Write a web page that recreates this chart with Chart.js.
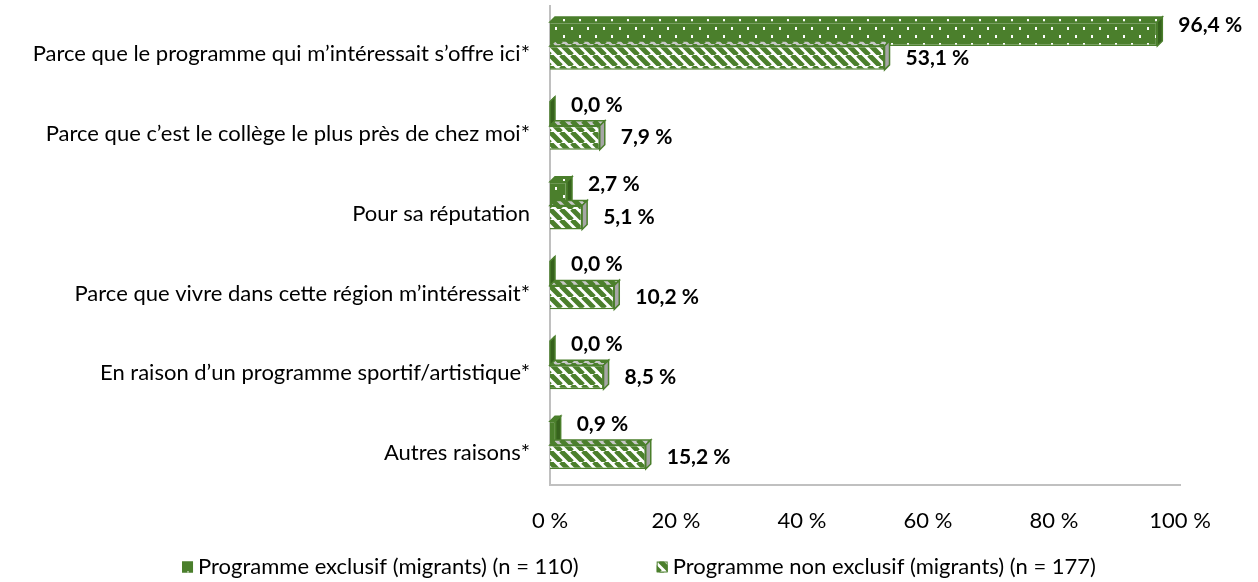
<!DOCTYPE html>
<html lang="fr">
<head>
    <meta charset="UTF-8">
    <title>Raisons du choix du collège</title>
    <script src="https://cdn.jsdelivr.net/npm/chart.js"></script>
    <style>
        body { margin: 0; background: #fff; }
        #wrap { width: 1258px; height: 582px; }
    </style>
</head>
<body>
    <div id="wrap"><canvas id="raisonsChart" width="1258" height="582"></canvas></div>

    <script>
        // Data
        const categories = [
            "Parce que le programme qui m’intéressait s’offre ici*",
            "Parce que c’est le collège le plus près de chez moi*",
            "Pour sa réputation",
            "Parce que vivre dans cette région m’intéressait*",
            "En raison d’un programme sportif/artistique*",
            "Autres raisons*"
        ];
        const seriesNames = [
            "Programme exclusif (migrants) (n = 110)",
            "Programme non exclusif (migrants) (n = 177)"
        ];
        const exclusif = [96.4, 0.0, 2.7, 0.0, 0.0, 0.9];
        const nonExclusif = [53.1, 7.9, 5.1, 10.2, 8.5, 15.2];
        const xTicks = [0, 20, 40, 60, 80, 100];

        const green = '#4b7f2c';
        const darkGreen = '#36621d';
        const FONT = "Lato, 'Open Sans', sans-serif";
        const DEPTH = 5;

        function makeDots() {
            const c = document.createElement('canvas');
            c.width = 16; c.height = 16;
            const g = c.getContext('2d');
            g.fillStyle = green;
            g.fillRect(0, 0, 16, 16);
            g.fillStyle = '#ffffff';
            g.fillRect(3, 3, 2, 3);
            g.fillRect(11, 11, 2, 3);
            return g.createPattern(c, 'repeat');
        }

        function makeStripes(bg) {
            const s = 11;
            const c = document.createElement('canvas');
            c.width = s; c.height = s;
            const g = c.getContext('2d');
            g.fillStyle = bg;
            g.fillRect(0, 0, s, s);
            g.strokeStyle = green;
            g.lineWidth = 5;
            g.beginPath();
            for (let k = -1; k <= 1; k++) {
                g.moveTo(k * s, 0);
                g.lineTo(k * s + s, s);
            }
            g.stroke();
            return g.createPattern(c, 'repeat');
        }

        const dots = makeDots();
        const stripes = makeStripes('#ffffff');
        const greyStripes = makeStripes('#c8c8c8');

        // fake 3D: top and right faces of each bar, then labels and legend
        const faces = {
            id: 'faces',
            afterDatasetsDraw(chart) {
                const ctx = chart.ctx;
                const d = DEPTH;
                [0, 1].forEach(function(di) {
                    const meta = chart.getDatasetMeta(di);
                    meta.data.forEach(function(bar) {
                        const x0 = bar.base, x1 = bar.x;
                        const yt = bar.y - bar.height / 2, yb = bar.y + bar.height / 2;
                        ctx.save();
                        ctx.lineWidth = 1.5;
                        ctx.strokeStyle = green;
                        // top face
                        ctx.beginPath();
                        ctx.moveTo(x0, yt);
                        ctx.lineTo(x1, yt);
                        ctx.lineTo(x1 + d, yt - d);
                        ctx.lineTo(x0 + d, yt - d);
                        ctx.closePath();
                        ctx.fillStyle = di === 0 ? dots : greyStripes;
                        ctx.fill();
                        ctx.stroke();
                        // right face
                        ctx.beginPath();
                        ctx.moveTo(x1, yt);
                        ctx.lineTo(x1 + d, yt - d);
                        ctx.lineTo(x1 + d, yb - d);
                        ctx.lineTo(x1, yb);
                        ctx.closePath();
                        ctx.fillStyle = di === 0 ? darkGreen : '#a6a6a6';
                        ctx.fill();
                        ctx.stroke();
                        ctx.restore();
                    });
                });
            },
            afterDraw(chart) {
                const ctx = chart.ctx;
                // value labels
                ctx.save();
                ctx.font = "bold 21px " + FONT;
                ctx.fillStyle = '#000';
                ctx.textBaseline = 'middle';
                ctx.textAlign = 'left';
                [0, 1].forEach(function(di) {
                    const meta = chart.getDatasetMeta(di);
                    const vals = chart.data.datasets[di].data;
                    meta.data.forEach(function(bar, i) {
                        const txt = vals[i].toFixed(1).replace('.', ',') + ' %';
                        ctx.fillText(txt, bar.x + DEPTH + 16, bar.y - (di === 0 ? 9 : 0));
                    });
                });
                ctx.restore();

                // legend
                ctx.save();
                ctx.font = "22px " + FONT;
                ctx.textBaseline = 'middle';
                const box = 11, gapTxt = 5, gapItem = 78, y = 567;
                const widths = chart.data.datasets.map(function(ds) {
                    return box + gapTxt + ctx.measureText(ds.label).width;
                });
                let x = 639 - (widths[0] + widths[1] + gapItem) / 2;
                chart.data.datasets.forEach(function(ds, i) {
                    ctx.fillStyle = ds.backgroundColor;
                    ctx.fillRect(x, y - box / 2, box, box);
                    ctx.strokeStyle = green;
                    ctx.lineWidth = 1;
                    ctx.strokeRect(x + 0.5, y - box / 2 + 0.5, box - 1, box - 1);
                    ctx.fillStyle = '#000';
                    ctx.fillText(ds.label, x + box + gapTxt, y);
                    x += widths[i] + gapItem;
                });
                ctx.restore();
            }
        };

        const ctx = document.getElementById('raisonsChart').getContext('2d');
        const raisonsChart = new Chart(ctx, {
            type: 'bar',
            data: {
                labels: categories,
                datasets: [{
                    label: seriesNames[0],
                    data: exclusif,
                    backgroundColor: dots,
                    borderColor: green,
                    borderWidth: 1.5
                }, {
                    label: seriesNames[1],
                    data: nonExclusif,
                    backgroundColor: stripes,
                    borderColor: green,
                    borderWidth: 1.5
                }]
            },
            options: {
                indexAxis: 'y',
                responsive: false,
                animation: false,
                categoryPercentage: 0.6,
                barPercentage: 1,
                layout: { padding: { top: 6, right: 78, bottom: 50, left: 0 } },
                scales: {
                    x: {
                        min: 0,
                        max: 100,
                        afterBuildTicks: function(scale) {
                            scale.ticks = xTicks.map(function(v) { return { value: v }; });
                        },
                        afterFit: function(scale) {
                            scale.height = 47;
                            scale.paddingLeft = 0;
                            scale.paddingRight = 0;
                        },
                        grid: { display: false, drawTicks: false },
                        border: { color: '#c0c0c0', width: 2 },
                        ticks: {
                            padding: 23,
                            color: '#000',
                            font: { family: FONT, size: 22 },
                            callback: function(v) { return v + ' %'; }
                        }
                    },
                    y: {
                        afterFit: function(scale) {
                            scale.width = 550;
                            scale.paddingTop = 0;
                            scale.paddingBottom = 0;
                        },
                        grid: { display: false, drawTicks: false },
                        border: { color: '#c0c0c0', width: 2 },
                        ticks: {
                            padding: 20,
                            labelOffset: 8,
                            color: '#000',
                            font: { family: FONT, size: 22 }
                        }
                    }
                },
                plugins: {
                    legend: { display: false },
                    tooltip: { enabled: false }
                }
            },
            plugins: [faces]
        });
    </script>
</body>
</html>
